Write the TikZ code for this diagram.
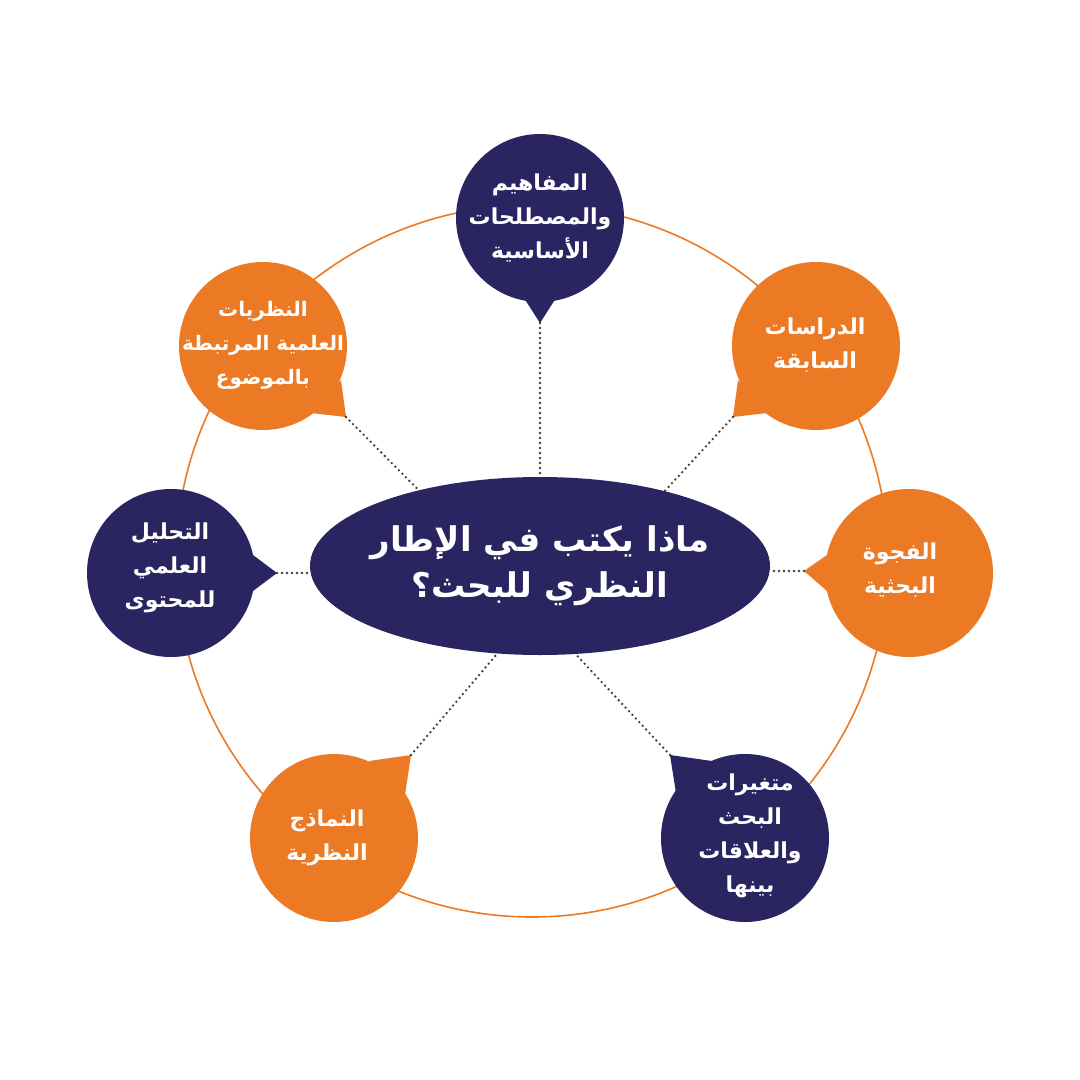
\documentclass[tikz,border=0pt]{standalone}
\usepackage{fontspec}
\usetikzlibrary{shapes.geometric}
\TeXXeTstate=1
\newfontfamily\arabicfont[Script=Arabic]{DejaVu Sans}
\definecolor{navy}{RGB}{42,37,96}
\definecolor{orng}{RGB}{236,122,36}
\definecolor{dotgray}{RGB}{60,60,60}
\newcommand\rl[1]{\beginR #1\endR}
\newcommand\mybubble[7]{%
  \coordinate (#4) at (#1,#2);
  \coordinate (#4tip) at (#5);
  \fill[#3] (#4) circle[radius=84pt];
  \fill[#3] (#4tip) -- (#6) -- (#7) -- cycle;
}
\tikzset{
  dotline/.style={dotgray, line width=2.6pt, line cap=round, dash pattern=on 0pt off 5pt},
  btext/.style={text=white, align=center, inner sep=0pt,
    font=\arabicfont\bfseries\fontsize{22}{34}\selectfont},
  ttext/.style={text=white, align=center, inner sep=0pt,
    font=\arabicfont\bfseries\fontsize{34}{46}\selectfont},
}
\begin{document}
\begin{tikzpicture}[x=1pt,y=-1pt]
\useasboundingbox[fill=white] (0,0) rectangle (1080,1080);
\coordinate (ring) at (532,561);
\draw[orng, line width=1.6pt] (ring) circle[radius=356pt];
\node[ellipse, fill=navy, minimum width=460pt, minimum height=178pt, inner sep=0pt] (ell) at (540,566) {};
% bubbles
\mybubble{540}{218}{navy}{b1}{540,323}{524,298}{556,298}
\mybubble{816}{346}{orng}{b2}{733,417}{738,380}{767,413}
\mybubble{909}{573}{orng}{b3}{804,571}{827,555}{827,591}
\mybubble{745}{838}{navy}{b4}{670,755}{712,761}{676,793}
\mybubble{334}{838}{orng}{b5}{411,755}{369,761}{405,795}
\mybubble{171}{573}{navy}{b6}{277,573}{253,555}{253,591}
\mybubble{263}{346}{orng}{b7}{346,417}{341,380}{311,413}
% connectors
\draw[dotline] (b1tip) -- (ell.90);
\draw[dotline] (b2tip) -- (ell.31);
\draw[dotline] (b3tip) -- (b3tip -| ell.east);
\draw[dotline] (b4tip) -- (ell.-68);
\draw[dotline] (b5tip) -- (ell.244);
\draw[dotline] (b6tip) -- (b6tip -| ell.west);
\draw[dotline] (b7tip) -- (ell.148);
% texts
\node[ttext] (title) at (540,566) {\rl{ماذا يكتب في الإطار}\\\rl{النظري للبحث؟}};
\node[btext] (t1) at (540,218) {\rl{المفاهيم}\\\rl{والمصطلحات}\\\rl{الأساسية}};
\node[btext] (t2) at (815,345) {\rl{الدراسات}\\\rl{السابقة}};
\node[btext] (t3) at (900,570) {\rl{الفجوة}\\\rl{البحثية}};
\node[btext] (t4) at (750,836) {\rl{متغيرات}\\\rl{البحث}\\\rl{والعلاقات}\\\rl{بينها}};
\node[btext] (t5) at (327,838) {\rl{النماذج}\\\rl{النظرية}};
\node[btext] (t6) at (170,568) {\rl{التحليل}\\\rl{العلمي}\\\rl{للمحتوى}};
\node[btext, font=\arabicfont\bfseries\fontsize{20}{34}\selectfont] (t7) at (263,345) {\rl{النظريات}\\\rl{العلمية المرتبطة}\\\rl{بالموضوع}};
\end{tikzpicture}
\end{document}
